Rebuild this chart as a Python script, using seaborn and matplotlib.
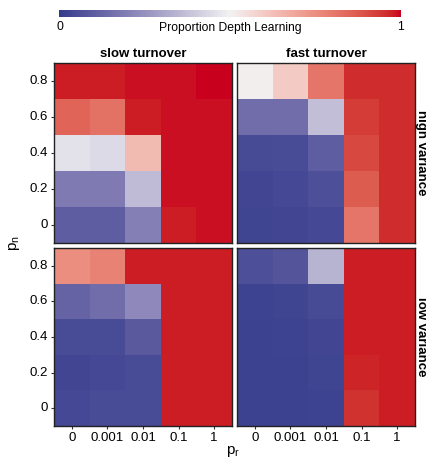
import numpy as np
import pandas as pd
import matplotlib
matplotlib.use("Agg")
import matplotlib.pyplot as plt
import seaborn as sns
from matplotlib.colors import ListedColormap, to_rgb

# axis values
p_r = ["0", "0.001", "0.01", "0.1", "1"]
p_n = ["0", "0.2", "0.4", "0.6", "0.8"]

# proportion depth learning, rows = p_n from 0 (first) to 0.8 (last)
slow_high = [
    [0.105, 0.105, 0.20, 0.98, 0.99],
    [0.19, 0.19, 0.36, 0.99, 0.99],
    [0.46, 0.44, 0.64, 0.99, 0.99],
    [0.85, 0.82, 0.98, 0.99, 0.99],
    [0.98, 0.98, 0.99, 0.99, 1.00],
]
fast_high = [
    [0.03, 0.035, 0.04, 0.81, 0.96],
    [0.035, 0.04, 0.06, 0.87, 0.96],
    [0.045, 0.05, 0.105, 0.91, 0.96],
    [0.15, 0.15, 0.37, 0.93, 0.96],
    [0.51, 0.60, 0.81, 0.96, 0.96],
]
slow_low = [
    [0.04, 0.05, 0.05, 0.98, 0.98],
    [0.035, 0.04, 0.05, 0.98, 0.98],
    [0.05, 0.05, 0.09, 0.98, 0.98],
    [0.12, 0.15, 0.23, 0.98, 0.98],
    [0.75, 0.78, 0.98, 0.98, 0.98],
]
fast_low = [
    [0.02, 0.02, 0.025, 0.95, 0.98],
    [0.02, 0.02, 0.03, 0.97, 0.98],
    [0.02, 0.025, 0.035, 0.98, 0.98],
    [0.025, 0.03, 0.045, 0.98, 0.98],
    [0.06, 0.075, 0.34, 0.98, 0.98],
]

col_titles = ["slow turnover", "fast turnover"]
row_titles = ["high variance", "low variance"]

plt.rcParams["font.family"] = ["Liberation Sans", "DejaVu Sans"]


# diverging gradient interpolated in Lab space (like ggplot's gradient2)
def to_lab(c):
    rgb = np.array(to_rgb(c))
    lin = np.where(rgb <= 0.04045, rgb / 12.92, ((rgb + 0.055) / 1.055) ** 2.4)
    m = np.array([[0.4124, 0.3576, 0.1805],
                  [0.2126, 0.7152, 0.0722],
                  [0.0193, 0.1192, 0.9505]])
    xyz = m @ lin / np.array([0.95047, 1.0, 1.08883])
    f = np.where(xyz > 0.008856, np.cbrt(xyz), 7.787 * xyz + 16 / 116)
    return np.array([116 * f[1] - 16, 500 * (f[0] - f[1]), 200 * (f[1] - f[2])])


def from_lab(lab):
    fy = (lab[..., 0] + 16) / 116
    fx = fy + lab[..., 1] / 500
    fz = fy - lab[..., 2] / 200
    f = np.stack([fx, fy, fz], axis=-1)
    xyz = np.where(f > 0.2069, f ** 3, (f - 16 / 116) / 7.787) * np.array([0.95047, 1.0, 1.08883])
    mi = np.array([[3.2406, -1.5372, -0.4986],
                   [-0.9689, 1.8758, 0.0415],
                   [0.0557, -0.2040, 1.0570]])
    lin = xyz @ mi.T
    rgb = np.where(lin <= 0.0031308, 12.92 * lin, 1.055 * np.clip(lin, 0, None) ** (1 / 2.4) - 0.055)
    return np.clip(rgb, 0, 1)


low, mid, high = to_lab("#333C8C"), to_lab("#F2F2F2"), to_lab("#C8001E")
t = np.linspace(0, 1, 256)[:, None]
labs = np.where(t < 0.5, low + (mid - low) * (t * 2), mid + (high - mid) * (t * 2 - 1))
cmap = ListedColormap(from_lab(labs))

W, H = 426, 461
fig = plt.figure(figsize=(W / 100, H / 100), dpi=100)


def px_axes(left, top, right, bottom):
    return fig.add_axes([left / W, 1 - bottom / H, (right - left) / W, (bottom - top) / H])


panels = [
    (slow_high, (54, 63, 232, 243), 0, 0),
    (fast_high, (237, 63, 415, 243), 0, 1),
    (slow_low, (54, 248, 232, 426), 1, 0),
    (fast_low, (237, 248, 415, 426), 1, 1),
]

for values, box, r, c in panels:
    ax = px_axes(*box)
    df = pd.DataFrame(values, index=p_n, columns=p_r).iloc[::-1]
    sns.heatmap(df, ax=ax, cmap=cmap, vmin=0, vmax=1, cbar=False)
    for s in ax.spines.values():
        s.set_visible(True)
        s.set_color("#222222")
        s.set_linewidth(1)
    ax.tick_params(length=2.5, width=0.8, color="#333333", labelsize=9.5, pad=2)
    ax.set_xlabel("")
    ax.set_ylabel("")
    if r == 0:
        ax.set_xticklabels([])
        ax.tick_params(axis="x", length=0)
        ax.set_title(col_titles[c], fontsize=9.5, fontweight="bold", pad=4)
    else:
        ax.set_xticklabels(p_r, rotation=0)
    if c == 1:
        ax.set_yticklabels([])
        ax.tick_params(axis="y", length=0)
        fig.text(415 / W, 1 - ((box[1] + box[3]) / 2) / H, row_titles[r],
                 rotation=-90, ha="left", va="center", fontsize=9.5, fontweight="bold")
    else:
        ax.set_yticklabels(df.index, rotation=0)

# colour bar at the top
cax = px_axes(59, 10, 401, 17)
cb = fig.colorbar(plt.cm.ScalarMappable(cmap=cmap, norm=plt.Normalize(0, 1)),
                  cax=cax, orientation="horizontal")
cb.outline.set_visible(False)
cb.set_ticks([])
label_y = 1 - 27.5 / H
fig.text(60 / W, label_y, "0", ha="center", va="center", fontsize=8.7)
fig.text(400 / W, label_y, "1", ha="center", va="center", fontsize=8.7)
fig.text(230 / W, label_y, "Proportion Depth Learning", ha="center", va="center", fontsize=8.7)

fig.text(14 / W, 1 - 243 / H, r"p$_\mathregular{n}$", rotation=90,
         ha="center", va="center", fontsize=11)
fig.text(233 / W, 1 - 451 / H, r"p$_\mathregular{r}$",
         ha="center", va="center", fontsize=11)

fig.savefig("out.png", dpi=100)
